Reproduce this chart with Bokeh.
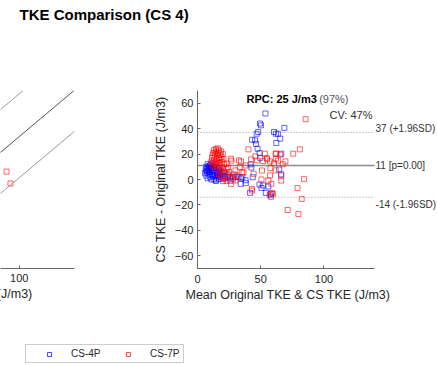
from bokeh.plotting import figure
from bokeh.models import Range1d, FixedTicker, Label, Slope, Legend, LegendItem, Title
from bokeh.layouts import column, row
from bokeh.embed import file_html
from bokeh.resources import INLINE

FONT = "Liberation Sans"
TXT = "#262626"

# ---------------- data ----------------
series_names = ["CS-4P", "CS-7P"]
series_colors = ["#0000ff", "#ff0000"]

# Bland-Altman: mean of Original & CS TKE (J/m3) and difference CS - Original
mean_4p = [53.7, 49.4, 50.2, 46.8, 48.0, 43.2, 45.5, 46.3, 47.5, 49.1, 49.6, 60.5, 62.0, 63.6, 65.4,
           62.3, 68.7, 66.2, 42.1, 42.6, 43.7, 51.9, 50.6, 56.0, 54.0, 57.9, 58.1, 41.6, 66.1, 64.6,
           34.4, 28.0, 30.0, 32.5, 25.5, 38.0, 38.2, 22.0, 13.2, 35.4, 34.1, 19.9, 23.8, 14.7, 49.0,
           6, 6.5, 7, 7, 7.5, 8, 8, 8.5, 9, 9, 9.5, 10, 10, 10.5, 11, 11, 11.5, 12, 12, 12.5, 13, 13,
           13.5, 14, 14, 14.5, 15, 15, 15.5, 16, 16, 16.5, 17, 17, 17.5, 18, 18, 19, 20, 21, 22, 24, 26,
           9, 10, 11, 12, 8, 7]
diff_4p = [51.9, 44.0, 42.6, 36.0, 37.4, 31.3, 30.8, 28.0, 24.2, 20.8, 17.0, 37.4, 36.0, 36.0, 32.1,
           28.7, 40.6, 20.3, 11.9, 9.4, 1.8, -4.7, -6.6, -5.5, -10.5, -11.3, -13.5, -10.5, 4.0, 7.9,
           0.8, 1.5, 2.0, 1.8, 1.6, -0.6, -2.9, 2.4, 0.3, 1.8, -3.4, 0.5, 1.8, -0.8, -4.0,
           5, 8, 10, 3, 6, 12, 1, 7, 4, 9.5, 11, 2, 6, 8.5, 12.5, 0, 4.5, 7, 10, 2.5, 5.5, 9,
           11.5, 3, 7.5, -1, 5, 10, 1.5, 8, 3.5, 6, 0.5, 9, 4, 2, 7, 5, 3, 6, 1, 4, -1,
           7, 11, 9, 3.5, 9, 7]
mean_7p = [85.5, 80.9, 75.7, 40.3, 42.4, 45.7, 53.2, 62.3, 65.4, 55.0, 51.9, 57.4, 60.5, 63.6, 69.5,
           67.4, 57.6, 61.8, 34.4, 33.4, 26.9, 23.0, 24.3, 30.0, 84.3, 79.1, 82.4, 71.3, 79.8, 58.4,
           50.6, 56.0, 42.9, 57.1, 58.9, 66.2, 20.2, 36.4, 66.2, 59.7, 47.0, 54.8, 62.0, 32.8, 26.4,
           38.0, 35.4, 44.4, 51.0, 57.4, 30.2, 26.4, 43.2, 61.8,
           11, 11.5, 12, 12, 12.5, 13, 13, 13.5, 14, 14, 14.5, 15, 15, 15.5, 16, 16, 16.5, 17, 17,
           17.5, 18, 18, 18.5, 19, 19.5, 20, 20.5, 12.5, 14, 15, 16.5, 18, 19, 20, 21, 22, 23, 24,
           25, 27, 29, 17, 19, 21, 23, 28, 31]
diff_7p = [47.4, 23.7, 20.3, 23.7, 15.8, 18.2, 20.3, 20.3, 19.5, 15.8, 14.5, 14.2, 12.7, 14.8, 14.2,
           12.0, 8.9, 7.2, 14.2, 9.7, 14.8, 12.5, 9.4, 7.2, 0.3, -6.8, -15.3, -24.0, -27.1, -3.4,
           0.0, -0.8, -7.4, -12.1, -10.5, -0.8, -1.3, 5.4, 3.2, -11.3, 15.0, 16.8, 16.3, 15.0, 16.3,
           11.0, 5.8, 4.5, 7.1, 3.2, -0.8, -3.4, -8.7, 20.3,
           14, 17, 19, 12.5, 21, 15, 23, 18, 13, 20.5, 24, 16, 22, 19, 14, 24.5, 21, 17, 23,
           13, 19.5, 15.5, 22, 17.5, 13.5, 20, 16, 10, 8, 11, 9.5, 11, 7, 9, 12, 5, 8, 3,
           6, 2, 4, 4, 2, 1, -1, 0, 3]

bias = 11
upper_loa = 37
lower_loa = -14
p_value = "0.00"
rpc_value = 25
rpc_pct = 97
cv_pct = 47

# scatter panel (Original TKE vs CS TKE), visible part
sc_orig_7p = [93.5, 95.5]
sc_cs_7p = [89.7, 82.5]

ba_xlim = (0, 140)
ba_ylim = (-70, 70)
ba_xticks = [0, 50, 100]
ba_yticks = [-60, -40, -20, 0, 20, 40, 60]
sc_xticks = [100]


def style_axis(ax, fs="11px"):
    ax.axis_line_color = "#666666"
    ax.major_tick_line_color = "#666666"
    ax.major_tick_in = 3
    ax.major_tick_out = 0
    ax.minor_tick_line_color = None
    ax.major_label_text_font = FONT
    ax.major_label_text_font_size = fs
    ax.major_label_text_color = TXT
    ax.axis_label_text_font = FONT
    ax.axis_label_text_font_size = "12.5px"
    ax.axis_label_text_font_style = "normal"
    ax.axis_label_text_color = TXT


def blank_fig(w, h, **kw):
    f = figure(width=w, height=h, x_range=Range1d(0, 1), y_range=Range1d(0, 1),
               x_axis_location=None, y_axis_location=None,
               toolbar_location=None, output_backend="svg", outline_line_color=None, **kw)
    f.grid.visible = False
    return f


# ---------------- title strip ----------------
tf = blank_fig(437, 30, min_border=0)
tf.add_layout(Label(x=19, y=16, x_units="screen", y_units="screen", text="TKE Comparison (CS 4)",
                    text_font=FONT, text_font_size="15px", text_font_style="bold",
                    text_baseline="middle", text_color="black"))

# ---------------- left (scatter) panel, cropped ----------------
pl = figure(width=150, height=285, x_range=Range1d(90.4, 128.2), y_range=Range1d(30.8, 139),
            y_axis_location=None, min_border_left=0, min_border_right=76,
            min_border_top=52, min_border_bottom=38,
            toolbar_location=None, output_backend="svg", outline_line_color=None)
pl.grid.visible = False
style_axis(pl.xaxis[0])
pl.xaxis.ticker = FixedTicker(ticks=sc_xticks)
pl.xaxis.major_label_standoff = 5
for c, col in [(upper_loa, "#9a9a9a"), (bias, "#555555"), (lower_loa, "#9a9a9a")]:
    pl.add_layout(Slope(gradient=1, y_intercept=c, line_color=col, line_width=1))
pl.scatter(sc_orig_7p, sc_cs_7p, marker="square", size=5, fill_color=None,
           line_color=series_colors[1], line_alpha=0.6, line_width=1)
pl.add_layout(Title(text="Original TKE (J/m3)", align="right", offset=42, standoff=0,
                    text_font=FONT, text_font_size="12.5px", text_font_style="normal",
                    text_color=TXT), "below")

# ---------------- right (Bland-Altman) panel ----------------
# frame is widened to the right so the limit-of-agreement texts fit inside it;
# the x axis itself is bounded to the data range 0..140
frame_w_data = 180  # px used for the 0..140 span
frame_w_total = 244
x_hi = ba_xlim[0] + (ba_xlim[1] - ba_xlim[0]) * frame_w_total / frame_w_data
pr = figure(width=287, height=285, x_range=Range1d(ba_xlim[0], x_hi), y_range=Range1d(*ba_ylim),
            min_border_left=43, min_border_right=0, min_border_top=60, min_border_bottom=47,
            toolbar_location=None, output_backend="svg", outline_line_color=None)
pr.grid.visible = False
style_axis(pr.xaxis[0])
style_axis(pr.yaxis[0])
pr.xaxis.bounds = ba_xlim
pr.xaxis.ticker = FixedTicker(ticks=ba_xticks)
pr.yaxis.ticker = FixedTicker(ticks=ba_yticks)
pr.xaxis.major_label_standoff = 6
pr.yaxis.major_label_standoff = 4
pr.yaxis.axis_label_standoff = 4
pr.yaxis.axis_label = "CS TKE - Original TKE (J/m3)"
pr.add_layout(Title(text="Mean Original TKE & CS TKE (J/m3)", align="left", offset=-12, standoff=0,
                    text_font=FONT, text_font_size="12.5px", text_font_style="normal",
                    text_color=TXT), "below")

pr.segment(x0=[ba_xlim[0]] * 2, x1=[ba_xlim[1]] * 2, y0=[upper_loa, lower_loa],
           y1=[upper_loa, lower_loa], line_color="#9a9a9a", line_dash="1 2", line_width=1)
pr.segment(x0=[ba_xlim[0]], x1=[ba_xlim[1]], y0=[bias], y1=[bias],
           line_color="#8c8c8c", line_width=1.5)

pr.scatter(mean_4p, diff_4p, marker="square", size=5, fill_color=None,
           line_color=series_colors[0], line_alpha=0.6, line_width=1)
pr.scatter(mean_7p, diff_7p, marker="square", size=5, fill_color=None,
           line_color=series_colors[1], line_alpha=0.6, line_width=1)

pr.add_layout(Label(x=49, y=170, x_units="screen", y_units="screen",
                    text=f"RPC: {rpc_value} J/m3", text_font=FONT, text_font_size="11px",
                    text_font_style="bold", text_color="black", text_baseline="middle"))
pr.add_layout(Label(x=151, y=170, x_units="screen", y_units="screen",
                    text=f"({rpc_pct}%)", text_font=FONT, text_font_size="11px",
                    text_color="#555555", text_baseline="middle", text_align="right"))
pr.add_layout(Label(x=175, y=154, x_units="screen", y_units="screen",
                    text=f"CV: {cv_pct}%", text_font=FONT, text_font_size="11px",
                    text_color="#333333", text_baseline="middle", text_align="right"))

lab_kw = dict(text_font=FONT, text_font_size="10px", text_color="#333333", text_baseline="middle")
pr.add_layout(Label(x=ba_xlim[1], y=upper_loa, x_offset=1, y_offset=4,
                    text=f"{upper_loa} (+1.96SD)", **lab_kw))
pr.add_layout(Label(x=ba_xlim[1], y=bias, x_offset=1, y_offset=0,
                    text=f"{bias} [p={p_value}]", **lab_kw))
pr.add_layout(Label(x=ba_xlim[1], y=lower_loa, x_offset=1, y_offset=-7,
                    text=f"{lower_loa} (-1.96SD)", **lab_kw))

# ---------------- legend strip ----------------
lf = blank_fig(437, 50, min_border=0)
items = []
for name, colr in zip(series_names, series_colors):
    rr = lf.scatter(x=[-10], y=[-10], marker="square", size=5, line_color=colr,
                    fill_color=None, line_alpha=0.7, line_width=1)
    items.append(LegendItem(label=name, renderers=[rr], index=0))
leg = Legend(items=items, location=(25, 2), orientation="horizontal",
             padding=3, glyph_width=40, glyph_height=10, label_standoff=2, spacing=7,
             label_width=30, label_height=10,
             label_text_font=FONT, label_text_font_size="10px", label_text_color=TXT,
             border_line_color="#999999", border_line_width=1,
             background_fill_color="white", margin=0)
lf.add_layout(leg)

layout = column(tf, row(pl, pr), lf)
open("out.html", "w").write(file_html(layout, INLINE))
